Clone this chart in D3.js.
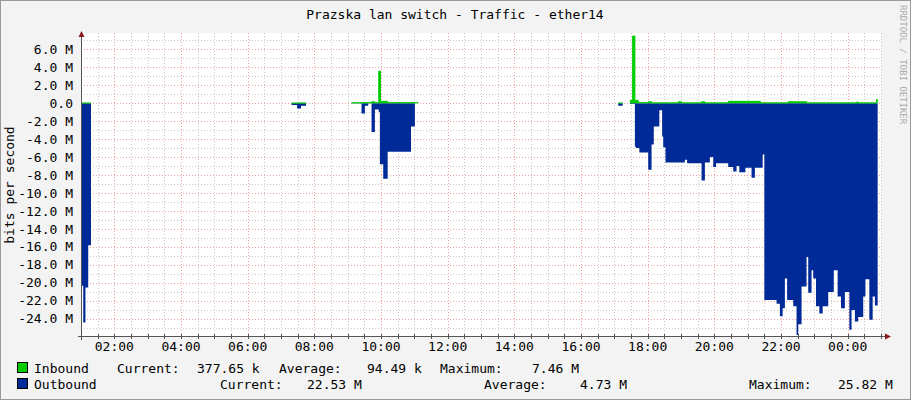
<!DOCTYPE html>
<html><head><meta charset="utf-8">
<script src="https://cdn.jsdelivr.net/npm/d3@7/dist/d3.min.js"></script>
<style>body{margin:0;background:#f3f3f3}svg{display:block}text{font-family:"DejaVu Sans Mono",monospace}</style>
</head><body><div id="chart"></div>
<script>
// minutes after 01:00, value in Mbit/s (NaN = no data)
var outTimes = [0,4,8,13,18, 379,389,396,405,
  487,505,511,517,523,529,536,538,544,552,594,601,607,
  967,975,988,997,999,1005,1021,1027,1031,1041,1046,1048,1052,1087,1091,1117,1123,1132,1138,1143,1165,1174,1180,1185,1196,1207,1213,1227,
  1230,1252,1258,1263,1267,1271,1282,1288,1291,1297,1306,1309,1315,1318,1323,1329,1335,1345,1355,1362,1368,1375,1383,1387,1393,1399,1408,1412,1419,1425,1429,1434];
var outValues = [-20.3,-24.4,-20.5,-15.8,NaN, -0.2,-0.6,-0.3,NaN,
  -0.05,-1.15,-0.3,-0.05,-3.2,-0.7,-1.0,-6.8,-8.4,-5.4,-2.6,-0.02,NaN,
  -0.3,NaN,-0.1,-4.85,-5.0,-5.5,-7.4,-4.6,-2.6,-0.8,-3.7,-4.9,-6.6,-6.3,-6.7,-8.6,-6.6,-6.0,-7.1,-6.7,-7.1,-7.6,-7.0,-7.7,-7.2,-8.3,-7.2,-5.7,
  -21.9,-22.3,-23.7,-22.8,-19.5,-21.9,-22.6,-25.8,-24.6,-20.4,-17.1,-21.1,-18.6,-19.5,-22.6,-23.4,-22.6,-21.0,-18.6,-21.5,-22.8,-21.0,-25.2,-23.0,-24.3,-23.8,-21.5,-19.6,-24.1,-21.5,-22.5,NaN];
var inTimes = [0,18, 379,405, 487,523,529,536,539,552,607,
  967,975,988,993,997,1003,1021,1027,1075,1081,1117,1123,1165,1223,1273,1306,1396,1399,1432,1434];
var inValues = [0.02,NaN, 0.02,NaN, 0.05,0.15,0.05,3.55,0.2,0.05,NaN,
  0.02,NaN,0.3,7.46,0.3,0.05,0.15,0.03,0.15,0.03,0.15,0.03,0.2,0.03,0.15,0.03,0.12,0.03,0.4,NaN];
var timeLabels = ["02:00","04:00","06:00","08:00","10:00","12:00","14:00","16:00","18:00","20:00","22:00","00:00"];
var yTicks = [6,4,2,0,-2,-4,-6,-8,-10,-12,-14,-16,-18,-20,-22,-24];
// legend text pieces: [text, x]
var legendRows = [
  {name:"Inbound", color:"#00cc00", items:[["Current:",117],["377.65 k",197],["Average:",279],["94.49 k",367],["Maximum:",440],["7.46 M",532]]},
  {name:"Outbound", color:"#002a97", items:[["Current:",220],["22.53 M",307],["Average:",484],["4.73 M",580],["Maximum:",749],["25.82 M",838]]}
];

var W = 911, H = 400;
var svg = d3.select("#chart").append("svg").attr("width", W).attr("height", H);
svg.append("rect").attr("x",0.5).attr("y",0.5).attr("width",W-1).attr("height",H-1)
  .attr("fill","#f3f3f3").attr("stroke","#999").attr("stroke-width",1);

var x = d3.scaleLinear().domain([0,1440]).range([81,881]);
var y = d3.scaleLinear().domain([-25.9,7.8]).range([336,33]);

svg.append("rect").attr("x",81).attr("y",33).attr("width",800).attr("height",303).attr("fill","#fff");

// grid
var g = svg.append("g");
d3.range(30,1441,30).forEach(function(m){
  var major = (m+60)%120===0;
  g.append("line").attr("x1",Math.round(x(m))+0.5).attr("x2",Math.round(x(m))+0.5).attr("y1",33).attr("y2",336)
    .attr("stroke",major?"#f0a0a0":"#c8c8c8").attr("stroke-dasharray","1,2");
});
d3.range(-25,8).forEach(function(v){
  var major = v%2===0;
  g.append("line").attr("x1",81).attr("x2",881).attr("y1",Math.round(y(v))+0.5).attr("y2",Math.round(y(v))+0.5)
    .attr("stroke",major?"#f0a0a0":"#c8c8c8").attr("stroke-dasharray","1,2");
});

function series(times, values){
  var pts = [];
  times.forEach(function(t,i){
    if (isNaN(values[i]) && i>0 && !isNaN(values[i-1])) pts.push({t:t, v:values[i-1]});
    pts.push({t:t, v:values[i]});
  });
  return pts;
}
var area = d3.area().defined(function(d){return !isNaN(d.v);}).curve(d3.curveStepAfter)
  .x(function(d){return x(d.t);}).y0(y(0)).y1(function(d){return y(d.v);});
var line = d3.line().defined(function(d){return !isNaN(d.v);}).curve(d3.curveStepAfter)
  .x(function(d){return x(d.t);}).y(function(d){return y(d.v);});

svg.append("path").datum(series(outTimes,outValues)).attr("d",area).attr("fill","#002a97");
svg.append("path").datum(series(inTimes,inValues)).attr("d",area).attr("fill","#00cc00");
svg.append("path").datum(series(inTimes,inValues)).attr("d",line).attr("fill","none").attr("stroke","#00cc00").attr("stroke-width",1);

// axes
svg.append("line").attr("x1",81.5).attr("x2",81.5).attr("y1",36).attr("y2",340).attr("stroke","#555");
svg.append("line").attr("x1",78).attr("x2",886).attr("y1",336.5).attr("y2",336.5).attr("stroke","#555");
svg.append("path").attr("d","M78.5,37L81.5,31L84.5,37Z").attr("fill","#8b1a1a");
svg.append("path").attr("d","M885,333.5L891,336.5L885,339.5Z").attr("fill","#8b1a1a");
d3.range(0,1441,30).forEach(function(m){
  svg.append("line").attr("x1",Math.round(x(m))+0.5).attr("x2",Math.round(x(m))+0.5).attr("y1",334).attr("y2",339).attr("stroke","#555");
});

svg.selectAll(".yl").data(yTicks).enter().append("text")
  .attr("x",73).attr("y",function(d){return y(d)+4.5;}).attr("text-anchor","end")
  .attr("font-size",13).attr("fill","#000")
  .text(function(d){return (d===0?"0.0":d.toFixed(1)+" M");});
svg.selectAll(".xl").data(timeLabels).enter().append("text")
  .attr("x",function(d,i){return x(60+i*120);}).attr("y",351).attr("text-anchor","middle")
  .attr("font-size",13).attr("fill","#000").text(function(d){return d;});

svg.append("text").attr("x",455).attr("y",19).attr("text-anchor","middle").attr("font-size",13).text("Prazska lan switch - Traffic - ether14");
svg.append("text").attr("transform","translate(14,185) rotate(-90)").attr("text-anchor","middle").attr("font-size",13).text("bits per second");
svg.append("text").attr("transform","translate(900,5) rotate(90)").attr("font-size",9).attr("fill","#aaa").text("RRDTOOL / TOBI OETIKER");

// legend
legendRows.forEach(function(r,i){
  var ly = 373 + i*16;
  svg.append("rect").attr("x",17.5).attr("y",ly-10.5).attr("width",10).attr("height",10).attr("fill",r.color).attr("stroke","#000");
  svg.append("text").attr("x",34).attr("y",ly).attr("font-size",13).text(r.name);
  r.items.forEach(function(it){
    svg.append("text").attr("x",it[1]).attr("y",ly).attr("font-size",13).text(it[0]);
  });
});
</script></body></html>
